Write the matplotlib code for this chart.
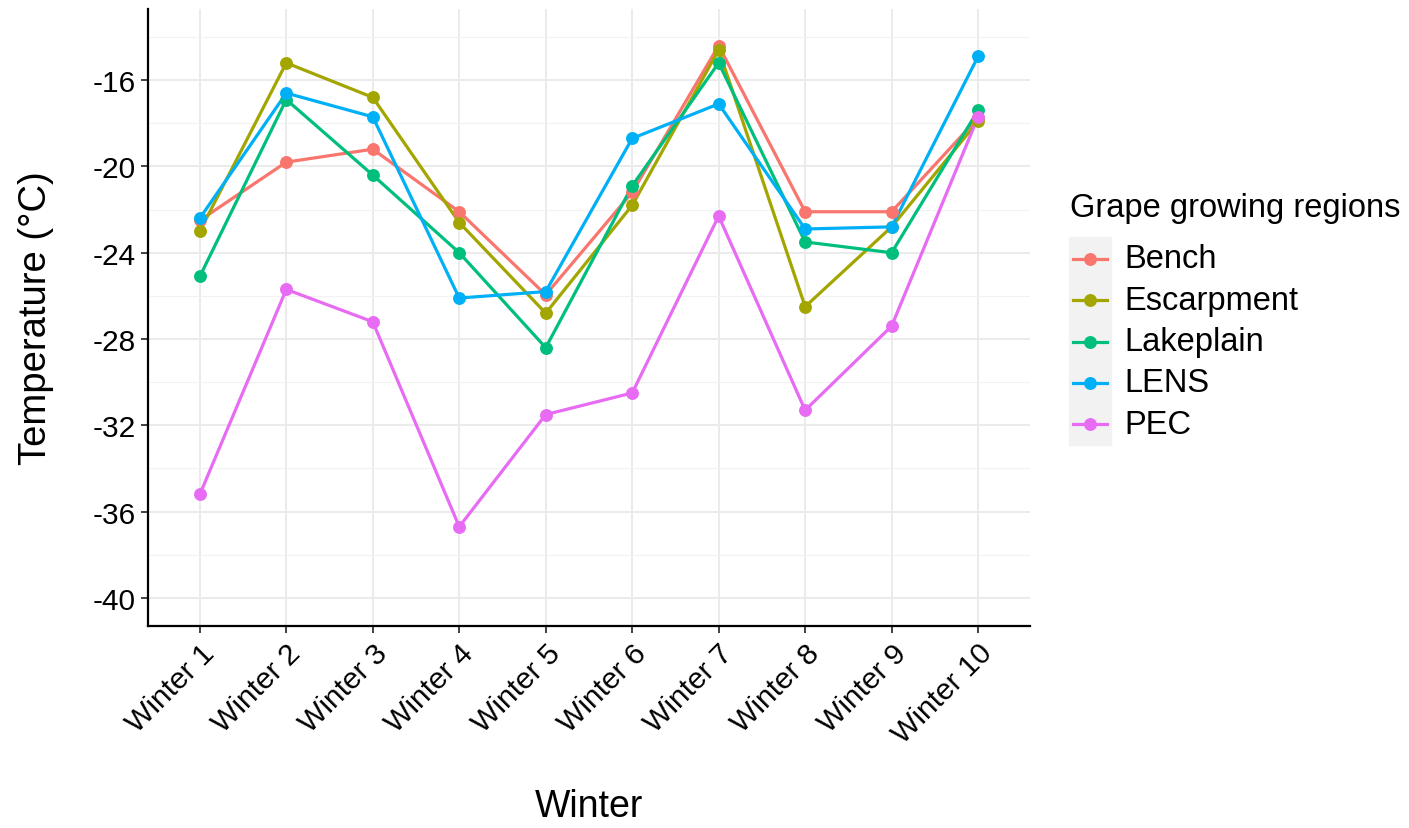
import numpy as np
import matplotlib
matplotlib.use("Agg")
import matplotlib.pyplot as plt
import matplotlib.ticker as ticker
from matplotlib.lines import Line2D
from matplotlib.patches import Rectangle

plt.rcParams['font.family'] = ['Liberation Sans', 'DejaVu Sans']

winters = ['Winter 1', 'Winter 2', 'Winter 3', 'Winter 4', 'Winter 5',
           'Winter 6', 'Winter 7', 'Winter 8', 'Winter 9', 'Winter 10']
regions = ['Bench', 'Escarpment', 'Lakeplain', 'LENS', 'PEC']

bench = [-22.5, -19.8, -19.2, -22.1, -25.95, -21.2, -14.4, -22.1, -22.1, -17.75]
escarpment = [-23.0, -15.2, -16.8, -22.6, -26.8, -21.8, -14.6, -26.5, -22.8, -17.9]
lakeplain = [-25.1, -16.9, -20.4, -24.0, -28.4, -20.9, -15.2, -23.5, -24.0, -17.4]
lens = [-22.4, -16.6, -17.7, -26.1, -25.8, -18.7, -17.1, -22.9, -22.8, -14.9]
pec = [-35.2, -25.7, -27.2, -36.7, -31.5, -30.5, -22.3, -31.3, -27.4, -17.7]

colors = ['#F8766D', '#A3A500', '#00BF7D', '#00B0F6', '#E76BF3']
series = [bench, escarpment, lakeplain, lens, pec]

LW = 2.3
MS = 9.3

fig = plt.figure(figsize=(14.09, 8.29), dpi=100)
ax = fig.add_axes([0.105, 0.2437, 0.626, 0.7443])

x = np.arange(1, len(winters) + 1)
for vals, col in zip(series, colors):
    ax.plot(x, vals, color=col, lw=LW, zorder=3)
for vals, col in zip(series, colors):
    ax.plot(x, vals, 'o', color=col, ms=MS, mec='none', zorder=4)

ax.set_xlim(0.4, 10.6)
ax.set_ylim(-41.3, -12.7)
ax.set_xticks(x)
ax.set_xticklabels(winters, rotation=45, ha='right', va='top',
                   rotation_mode='anchor', fontsize=21.5)
yt = np.arange(-40, -15, 4)
ax.set_yticks(yt)
ax.set_yticklabels([str(v) for v in yt], fontsize=21.5)
ax.yaxis.set_minor_locator(ticker.FixedLocator(np.arange(-38, -13, 4)))

ax.grid(which='major', color='#EBEBEB', lw=1.4, zorder=0)
ax.grid(which='minor', axis='y', color='#F2F2F2', lw=0.8, zorder=0)
ax.set_axisbelow(True)
ax.tick_params(axis='both', which='major', length=5, width=1.3, color='#333333',
               labelcolor='black', pad=4)
ax.tick_params(axis='y', which='minor', length=0)
for s in ['top', 'right']:
    ax.spines[s].set_visible(False)
for s in ['left', 'bottom']:
    ax.spines[s].set_linewidth(1.6)
    ax.spines[s].set_color('black')

ax.set_xlabel('Winter', fontsize=27, va='center', ha='center')
ax.xaxis.set_label_coords(0.5, -0.292)
ax.set_ylabel('Temperature (°C)', fontsize=27.5, va='center', ha='center')
ax.yaxis.set_label_coords(-0.127, 0.5)

# legend drawn in figure pixels
W, H = 1409, 829
fig.text(1070 / W, 1 - 208 / H, 'Grape growing regions', fontsize=23.5,
         va='center', ha='left')
fig.patches.append(Rectangle((1069 / W, 1 - 446 / H), 42 / W, 208 / H,
                             transform=fig.transFigure, color='#F2F2F2',
                             zorder=0))
for i, (name, col) in enumerate(zip(regions, colors)):
    yy = 1 - (260 + i * 41.3) / H
    fig.lines.append(Line2D([1073 / W, 1107 / W], [yy, yy], color=col, lw=LW,
                            transform=fig.transFigure))
    fig.lines.append(Line2D([1090 / W], [yy], marker='o', color=col, ms=MS,
                            mec='none', transform=fig.transFigure))
    fig.text(1124 / W, yy, name, fontsize=23.5, va='center', ha='left')

fig.savefig('out.png', dpi=100)
